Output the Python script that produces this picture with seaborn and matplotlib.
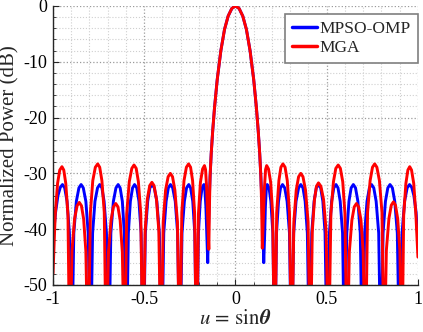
import numpy as np
import pandas as pd
import matplotlib
matplotlib.use("Agg")
import matplotlib.pyplot as plt
from matplotlib.ticker import MultipleLocator
import seaborn as sns

# ---- beam-pattern samples: u = sin(theta), normalized power in dB ----
# (values below -50 dB sit in the pattern nulls and are clipped by the axes)
u_mpso = [
    -1.000, -0.986, -0.973, -0.960, -0.948, -0.936, -0.923, -0.910, -0.898,
    -0.886, -0.872, -0.858, -0.846, -0.834, -0.820, -0.807, -0.795,
    -0.783, -0.770, -0.756, -0.744, -0.732, -0.720, -0.707, -0.695,
    -0.683, -0.669, -0.655, -0.643, -0.632, -0.620, -0.609, -0.598,
    -0.587, -0.576, -0.564, -0.553, -0.541, -0.529, -0.517, -0.505,
    -0.494, -0.481, -0.469, -0.457, -0.445, -0.431, -0.417, -0.405,
    -0.393, -0.380, -0.368, -0.356, -0.344, -0.330, -0.317, -0.305,
    -0.293, -0.280, -0.268, -0.256, -0.246, -0.234, -0.223, -0.213,
    -0.203, -0.193, -0.183, -0.173, -0.168, -0.162, -0.157, -0.152,
    -0.148, -0.144, -0.139, -0.133, -0.125, -0.115, -0.100, -0.080,
    -0.060, -0.040, -0.020, 0.000,
    0.020, 0.040, 0.060, 0.080, 0.100, 0.115, 0.125, 0.133, 0.139,
    0.145, 0.150, 0.155,
    0.160, 0.164, 0.169, 0.174, 0.184, 0.194, 0.205, 0.215,
    0.225, 0.236, 0.247, 0.258, 0.270, 0.283, 0.296, 0.307,
    0.319, 0.332, 0.346, 0.358, 0.370, 0.382, 0.394, 0.406,
    0.418, 0.431, 0.443, 0.455, 0.467, 0.479, 0.491, 0.503,
    0.515, 0.527, 0.539, 0.551, 0.562, 0.574, 0.587, 0.598,
    0.610, 0.622, 0.634, 0.646, 0.658, 0.671, 0.684, 0.696,
    0.708, 0.721, 0.734, 0.746, 0.758, 0.771, 0.785, 0.797,
    0.809, 0.822, 0.835, 0.847, 0.860, 0.873, 0.887, 0.900,
    0.913, 0.927, 0.941, 0.954, 0.966, 0.978, 0.990, 1.000,
]
p_mpso = [
    -42.0, -37.0, -34.0, -32.5, -32.0, -32.6, -35.0, -40.7, -65.0,
    -40.7, -35.0, -32.6, -32.0, -32.6, -35.0, -40.7, -65.0,
    -40.7, -35.0, -32.6, -32.0, -32.6, -35.0, -40.7, -65.0,
    -40.7, -35.0, -32.6, -32.0, -32.6, -35.0, -40.7, -65.0,
    -40.7, -35.0, -32.6, -32.0, -32.6, -35.0, -40.7, -65.0,
    -40.7, -35.0, -32.6, -32.0, -32.6, -35.0, -40.7, -65.0,
    -40.7, -35.0, -32.6, -32.0, -32.6, -35.0, -40.7, -65.0,
    -40.7, -35.0, -32.6, -32.0, -32.6, -35.0, -40.7, -65.0,
    -40.7, -35.0, -32.6, -32.0, -32.8, -36.0, -41.0, -46.0,
    -40.0, -35.0, -30.5, -26.5, -22.5, -18.3, -13.2, -8.0,
    -4.2, -1.8, -0.45, 0.0,
    -0.45, -1.8, -4.2, -8.0, -13.2, -18.3, -22.5, -26.5, -30.5,
    -35.0, -40.0, -46.0,
    -41.0, -36.0, -32.8, -32.0, -32.6, -35.0, -40.7, -65.0,
    -40.7, -35.0, -32.6, -32.0, -32.6, -35.0, -40.7, -65.0,
    -40.7, -35.0, -32.6, -32.0, -32.6, -35.0, -40.7, -65.0,
    -40.7, -35.0, -32.6, -32.0, -32.6, -35.0, -40.7, -65.0,
    -40.7, -35.0, -32.6, -32.0, -32.6, -35.0, -40.7, -65.0,
    -40.7, -35.0, -32.6, -32.0, -32.6, -35.0, -40.7, -65.0,
    -40.7, -35.0, -32.6, -32.0, -32.6, -35.0, -40.7, -65.0,
    -40.7, -35.0, -32.6, -32.0, -32.6, -35.0, -40.7, -65.0,
    -40.7, -35.0, -32.6, -32.0, -32.5, -34.0, -37.0, -42.0,
]

u_mga = [
    -1.000, -0.988, -0.975, -0.963, -0.951, -0.941, -0.930, -0.918, -0.908,
    -0.896, -0.882, -0.868, -0.856, -0.844, -0.832, -0.820, -0.808,
    -0.795, -0.782, -0.768, -0.755, -0.744, -0.732, -0.719, -0.708,
    -0.696, -0.682, -0.669, -0.656, -0.644, -0.632, -0.620, -0.608,
    -0.596, -0.582, -0.568, -0.556, -0.544, -0.532, -0.519, -0.507,
    -0.495, -0.483, -0.470, -0.458, -0.446, -0.433, -0.420, -0.408,
    -0.396, -0.383, -0.369, -0.357, -0.345, -0.332, -0.318, -0.306,
    -0.294, -0.282, -0.269, -0.257, -0.246, -0.235, -0.224, -0.213,
    -0.203, -0.192, -0.180, -0.170, -0.164, -0.158, -0.152, -0.146,
    -0.142, -0.139, -0.133, -0.125, -0.115, -0.100, -0.080,
    -0.060, -0.040, -0.020, 0.000,
    0.020, 0.040, 0.060, 0.080, 0.100, 0.115, 0.125, 0.133, 0.139,
    0.143, 0.147,
    0.153, 0.159, 0.165, 0.171, 0.181, 0.193, 0.204, 0.215,
    0.226, 0.238, 0.249, 0.260, 0.272, 0.284, 0.296, 0.308,
    0.320, 0.333, 0.346, 0.358, 0.370, 0.384, 0.398, 0.410,
    0.421, 0.433, 0.444, 0.455, 0.468, 0.483, 0.497, 0.510,
    0.523, 0.537, 0.550, 0.563, 0.575, 0.588, 0.600, 0.612,
    0.624, 0.638, 0.651, 0.663, 0.675, 0.688, 0.700, 0.712,
    0.724, 0.738, 0.751, 0.763, 0.775, 0.789, 0.803, 0.815,
    0.827, 0.841, 0.854, 0.866, 0.877, 0.889, 0.901, 0.912,
    0.922, 0.934, 0.945, 0.955, 0.965, 0.977, 0.989, 1.000,
]
p_mga = [
    -48.0, -37.5, -31.8, -29.4, -28.8, -29.4, -31.8, -37.5, -65.0,
    -43.9, -38.2, -35.8, -35.2, -35.8, -38.2, -43.9, -65.0,
    -37.0, -31.3, -28.9, -28.3, -28.9, -31.3, -37.0, -65.0,
    -44.1, -38.4, -36.0, -35.4, -36.0, -38.4, -44.1, -65.0,
    -37.2, -31.5, -29.1, -28.5, -29.1, -31.5, -37.2, -65.0,
    -40.3, -34.6, -32.2, -31.6, -32.2, -34.6, -40.3, -65.0,
    -38.7, -33.0, -30.6, -30.0, -30.6, -33.0, -38.7, -65.0,
    -37.0, -31.3, -28.9, -28.3, -28.9, -31.3, -37.0, -65.0,
    -37.3, -31.6, -29.2, -28.6, -29.3, -32.5, -38.0, -43.6,
    -35.0, -30.5, -26.5, -22.5, -18.3, -13.2, -8.0,
    -4.2, -1.8, -0.45, 0.0,
    -0.45, -1.8, -4.2, -8.0, -13.2, -18.3, -22.5, -26.5, -30.5,
    -35.0, -43.4,
    -38.0, -32.5, -29.3, -28.6, -29.2, -31.6, -37.3, -65.0,
    -37.0, -31.3, -28.9, -28.3, -28.9, -31.3, -37.0, -65.0,
    -38.7, -33.0, -30.6, -30.0, -30.6, -33.0, -38.7, -65.0,
    -40.4, -34.7, -32.3, -31.7, -32.3, -34.7, -40.4, -65.0,
    -37.2, -31.5, -29.1, -28.5, -29.1, -31.5, -37.2, -65.0,
    -44.1, -38.4, -36.0, -35.4, -36.0, -38.4, -44.1, -65.0,
    -37.0, -31.3, -28.9, -28.3, -28.9, -31.3, -37.0, -65.0,
    -43.8, -38.1, -35.7, -35.1, -35.7, -38.1, -43.8, -65.0,
    -37.5, -31.8, -29.4, -28.8, -29.4, -31.8, -37.5, -45.0,
]

series_names = ["MPSO-OMP", "MGA"]
series_colors = ["#0000ff", "#ff0000"]
x_ticks = [-1, -0.5, 0, 0.5, 1]
x_tick_labels = ["-1", "-0.5", "0", "0.5", "1"]
y_ticks = [-50, -40, -30, -20, -10, 0]
y_tick_labels = ["-50", "-40", "-30", "-20", "-10", "0"]

df = pd.concat([
    pd.DataFrame({"u": u_mpso, "power": p_mpso, "method": series_names[0]}),
    pd.DataFrame({"u": u_mga, "power": p_mga, "method": series_names[1]}),
], ignore_index=True)

sns.set_theme(style="white")
plt.rcParams["font.family"] = ["Liberation Serif", "DejaVu Serif"]
plt.rcParams["mathtext.fontset"] = "stix"
plt.rcParams["axes.unicode_minus"] = False

fig = plt.figure(figsize=(4.23, 3.32), dpi=100)
ax = fig.add_axes([0.1253, 0.1416, 0.8627, 0.8404])

sns.lineplot(data=df, x="u", y="power", hue="method", hue_order=series_names,
             palette=series_colors, estimator=None, sort=False, linewidth=2.1,
             ax=ax)

ax.set_xlim(-1, 1)
ax.set_ylim(-50, 0)
ax.set_xticks(x_ticks)
ax.set_xticklabels(x_tick_labels)
ax.set_yticks(y_ticks)
ax.set_yticklabels(y_tick_labels)
ax.xaxis.set_minor_locator(MultipleLocator(0.1))
ax.yaxis.set_minor_locator(MultipleLocator(2))

ax.grid(True, which="major", linestyle=":", color="#9a9a9a", linewidth=0.9)
ax.grid(True, which="minor", linestyle=":", color="#cfcfcf", linewidth=0.8)
ax.set_axisbelow(True)

for side in ["top", "right"]:
    ax.spines[side].set_visible(False)
for side in ["left", "bottom"]:
    ax.spines[side].set_color("#262626")
    ax.spines[side].set_linewidth(1.0)

ax.tick_params(axis="both", which="major", direction="in", length=4,
               width=0.8, labelsize=13, colors="#262626", labelcolor="black",
               pad=4)
ax.tick_params(axis="both", which="minor", direction="in", length=2.5,
               width=0.6, colors="#262626")
ax.tick_params(left=True, bottom=True, which="both")

ax.set_xlabel(r"$u\,=\,\mathrm{sin}\boldsymbol{\theta}$", fontsize=15, labelpad=2)
ax.set_ylabel("Normalized Power (dB)", fontsize=15, labelpad=3)

leg = ax.legend(loc="upper right", bbox_to_anchor=(1.0, 0.97),
                borderaxespad=0, fontsize=12.5, frameon=True, fancybox=False,
                handlelength=1.45, handletextpad=0.15, borderpad=0.4,
                labelspacing=0.15)
leg.get_frame().set_edgecolor("#7f7f7f")
leg.get_frame().set_linewidth(1.2)
leg.get_frame().set_facecolor("white")
leg.get_frame().set_alpha(1.0)
for line in leg.get_lines():
    line.set_linewidth(2.5)

fig.savefig("out.png", dpi=100)
